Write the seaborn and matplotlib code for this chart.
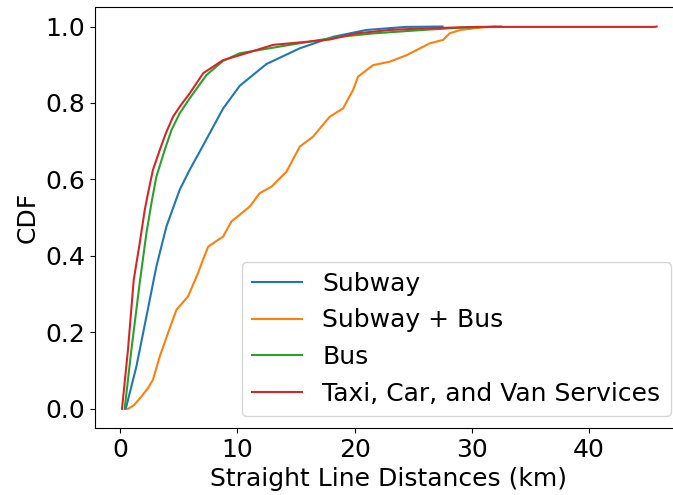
import matplotlib
matplotlib.use("Agg")
import matplotlib.pyplot as plt
import seaborn as sns
import pandas as pd

# ---- data (distance in km, cumulative fraction) ----
subway_km = [0.49, 1.40, 2.25, 3.10, 3.96, 5.09, 5.94, 6.80, 7.37, 8.78, 10.21,
             12.49, 15.33, 18.17, 21.0, 24.4, 27.5]
subway_cdf = [0.0, 0.111, 0.241, 0.372, 0.477, 0.573, 0.625, 0.673, 0.705, 0.785, 0.845,
              0.902, 0.943, 0.973, 0.991, 0.999, 1.0]

subway_bus_km = [0.68, 1.20, 1.82, 2.40, 2.81, 3.39, 4.09, 4.81, 5.80, 6.65, 7.08, 7.51,
                 8.36, 8.78, 9.50, 11.06, 11.91, 12.91, 14.19, 15.33, 16.46, 17.88,
                 19.02, 19.87, 20.30, 21.58, 23.0, 24.43, 26.41, 27.55, 28.10, 29.0,
                 31.0, 32.0]
subway_bus_cdf = [0.0, 0.010, 0.032, 0.055, 0.076, 0.137, 0.198, 0.259, 0.294, 0.355,
                  0.390, 0.424, 0.442, 0.450, 0.490, 0.529, 0.564, 0.581, 0.620, 0.686,
                  0.712, 0.764, 0.786, 0.834, 0.869, 0.899, 0.908, 0.925, 0.956, 0.965,
                  0.982, 0.991, 0.998, 1.0]

bus_km = [0.40, 0.97, 1.68, 2.25, 2.68, 3.10, 3.81, 4.40, 5.09, 5.94, 7.37, 8.78,
          10.21, 14.47, 18.7, 21.6, 25.8, 29.0, 32.5]
bus_cdf = [0.0, 0.154, 0.329, 0.459, 0.538, 0.607, 0.677, 0.730, 0.773, 0.812, 0.873,
           0.910, 0.930, 0.952, 0.973, 0.982, 0.991, 0.997, 1.0]

taxi_km = [0.17, 0.68, 1.17, 1.68, 2.11, 2.39, 2.81, 3.39, 3.90, 4.52, 5.20, 5.94,
           7.10, 8.78, 10.21, 13.05, 15.9, 17.88, 20.16, 23.0, 25.8, 30.4, 45.6, 45.75]
taxi_cdf = [0.0, 0.154, 0.337, 0.433, 0.520, 0.564, 0.625, 0.677, 0.720, 0.764, 0.795,
            0.825, 0.878, 0.912, 0.925, 0.952, 0.960, 0.966, 0.982, 0.991, 0.995, 0.999,
            0.999, 1.0]

labels = ["Subway", "Subway + Bus", "Bus", "Taxi, Car, and Van Services"]
colors = ["#1f77b4", "#ff7f0e", "#2ca02c", "#d62728"]

frames = []
for lab, xs, ys in zip(labels,
                       [subway_km, subway_bus_km, bus_km, taxi_km],
                       [subway_cdf, subway_bus_cdf, bus_cdf, taxi_cdf]):
    frames.append(pd.DataFrame({"km": xs, "cdf": ys, "mode": lab}))
df = pd.concat(frames, ignore_index=True)

plt.rcParams["font.family"] = ["DejaVu Sans"]
plt.rcParams["font.size"] = 18

fig = plt.figure(figsize=(6.73, 4.95), dpi=100)
ax = fig.add_axes([95 / 673, 67 / 495, (683 - 95) / 673, (428 - 7.4) / 495])

sns.lineplot(data=df, x="km", y="cdf", hue="mode", hue_order=labels,
             palette=dict(zip(labels, colors)), estimator=None, sort=False,
             units="mode", linewidth=1.5, ax=ax)

ax.set_xlabel("Straight Line Distances (km)", fontsize=18)
ax.set_ylabel("CDF", fontsize=18)
ax.tick_params(labelsize=18)
ax.set_xticks([0, 10, 20, 30, 40])
ax.set_yticks([0.0, 0.2, 0.4, 0.6, 0.8, 1.0])
ax.set_ylim(-0.05, 1.05)
ax.set_xlim(-2.13, 48.0)
ax.legend(loc="lower right", fontsize=18, title=None)

fig.savefig("out.png", dpi=100)
